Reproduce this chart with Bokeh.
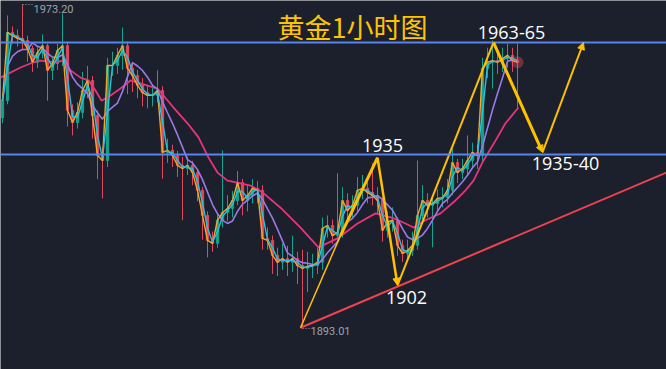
import pandas as pd
from bokeh.plotting import figure
from bokeh.models import ColumnDataSource, Range1d, Arrow, NormalHead, Label, Span
from bokeh.embed import file_html
from bokeh.resources import INLINE

# ---------------- data ----------------
closes = [1949.4, 1966.3, 1965.5, 1964.8, 1964.3, 1962.3, 1958.9, 1961.3, 1963.0, 1956.9,
          1958.6, 1961.8, 1963.0, 1947.0, 1944.0, 1946.5, 1951.9, 1954.4, 1945.7, 1935.8,
          1934.6, 1958.1, 1958.1, 1960.6, 1963.0, 1957.4, 1955.6, 1953.2, 1951.4, 1950.7,
          1950.7, 1951.9, 1936.6, 1937.1, 1935.8, 1933.4, 1932.6, 1933.4, 1931.6, 1927.2,
          1921.0, 1914.8, 1914.1, 1919.8, 1921.7, 1922.7, 1924.7, 1929.1, 1924.7, 1925.9,
          1927.7, 1927.2, 1915.3, 1914.8, 1911.1, 1909.4, 1910.3, 1909.4, 1910.3, 1908.6,
          1907.9, 1908.4, 1908.6, 1909.4, 1917.8, 1918.5, 1916.0, 1916.8, 1924.7, 1922.2,
          1923.5, 1927.2, 1927.7, 1926.7, 1925.9, 1924.7, 1917.3, 1919.3, 1919.8, 1913.6,
          1911.6, 1912.3, 1913.6, 1921.0, 1924.7, 1923.5, 1923.9, 1925.2, 1925.4, 1927.2,
          1934.1, 1931.6, 1932.6, 1934.6, 1936.6, 1935.8, 1957.4, 1958.9, 1959.3, 1958.9,
          1959.8, 1960.6, 1959.3, 1958.9]
highs = [1951.0, 1970.5, 1967.8, 1967.0, 1973.2, 1965.5, 1963.0, 1963.0, 1965.8, 1963.5,
         1960.0, 1963.5, 1971.0, 1964.0, 1948.5, 1949.0, 1956.5, 1958.0, 1955.5, 1947.0,
         1938.0, 1960.0, 1961.5, 1962.5, 1967.5, 1964.0, 1959.0, 1957.0, 1955.0, 1953.0,
         1953.5, 1956.9, 1953.0, 1940.0, 1938.5, 1937.0, 1935.5, 1935.5, 1934.5, 1932.5,
         1928.0, 1922.0, 1917.0, 1921.5, 1937.1, 1926.0, 1927.0, 1932.0, 1930.0, 1928.5,
         1930.0, 1929.5, 1928.5, 1918.0, 1916.0, 1913.0, 1914.0, 1913.5, 1916.0, 1912.0,
         1912.5, 1912.0, 1911.5, 1913.0, 1920.5, 1921.0, 1920.0, 1931.4, 1928.0, 1926.5,
         1926.0, 1930.5, 1931.0, 1930.0, 1933.9, 1928.0, 1925.5, 1922.0, 1923.0, 1920.5,
         1915.0, 1915.0, 1917.0, 1934.6, 1928.5, 1926.5, 1926.0, 1927.5, 1928.0, 1930.0,
         1937.5, 1935.0, 1935.0, 1940.8, 1939.0, 1938.5, 1960.0, 1962.5, 1964.3, 1962.0,
         1962.5, 1963.5, 1962.5, 1963.5]
lows = [1943.8, 1948.5, 1963.5, 1962.8, 1962.0, 1959.0, 1956.5, 1957.5, 1959.8, 1949.4,
        1954.5, 1957.0, 1958.0, 1943.0, 1940.8, 1942.5, 1945.0, 1950.0, 1940.0, 1930.0,
        1925.2, 1933.0, 1955.5, 1956.0, 1957.0, 1951.0, 1951.5, 1950.0, 1948.0, 1947.5,
        1948.0, 1949.0, 1930.1, 1934.0, 1933.0, 1930.5, 1919.8, 1931.0, 1928.5, 1924.5,
        1915.0, 1910.6, 1912.0, 1913.0, 1918.0, 1919.5, 1920.5, 1923.5, 1921.0, 1922.0,
        1924.0, 1924.0, 1912.5, 1912.5, 1906.5, 1906.0, 1907.5, 1906.0, 1907.0, 1904.0,
        1893.0, 1902.0, 1905.5, 1906.5, 1907.5, 1915.5, 1914.0, 1914.5, 1915.5, 1920.0,
        1920.5, 1922.0, 1925.0, 1924.0, 1923.5, 1921.5, 1914.5, 1915.5, 1917.0, 1911.0,
        1909.5, 1910.0, 1911.0, 1912.5, 1919.5, 1920.5, 1913.1, 1922.0, 1923.0, 1924.0,
        1926.0, 1929.0, 1930.0, 1931.0, 1933.0, 1932.5, 1934.5, 1955.0, 1952.4, 1956.0,
        1956.5, 1957.5, 1956.5, 1947.7]
first_open = 1945.2

# slow moving average (pink), read at selected bars
slow_ma_bars = [-0.4, 3.6, 6.2, 7.6, 10.6, 12.0, 13.6, 15.6, 17.2, 18.6, 19.8, 21.6, 23.6,
                25.6, 31.0, 34.2, 37.0, 39.2, 41.2, 43.0, 45.0, 47.0, 49.6, 52.0, 55.6,
                59.6, 63.2, 67.0, 71.0, 74.6, 78.2, 80.6, 82.2, 84.6, 87.6, 90.6, 92.6,
                94.2, 96.2, 98.6, 100.6, 103.2]
slow_ma_vals = [1955.1, 1957.6, 1958.9, 1959.3, 1958.9, 1959.3, 1956.9, 1955.1, 1954.4,
                1951.9, 1949.4, 1950.7, 1952.4, 1954.4, 1952.4, 1947.7, 1943.8, 1940.3,
                1935.3, 1931.6, 1929.6, 1929.1, 1928.4, 1926.7, 1922.9, 1918.0, 1913.1,
                1915.3, 1919.0, 1921.5, 1920.3, 1919.0, 1918.0, 1919.8, 1921.5, 1924.7,
                1927.2, 1929.6, 1934.6, 1939.5, 1943.8, 1947.7]

resistance_level = 1963.8
support_level = 1936.1

# hand-drawn forecast path (bar index, price)
path_bars = [59.6, 67.6, 75.0, 79.0, 98.2, 108.0, 116.2]
path_prices = [1893.2, 1916.0, 1935.3, 1903.7, 1963.8, 1936.6, 1963.8]
path_widths = [1.5, 3, 2.5, 2, 3, 2]
path_arrow = [False, False, True, False, True, True]

trend_bars = [59.6, 132.8]
trend_prices = [1893.2, 1931.6]

# extreme markers (bar index, price) with dotted leaders to their labels
extreme_bars = [4, 60]
extreme_prices = [1973.2, 1893.01]
leader_ends = [6.0, 61.4]

title_text = "黄金1小时图"
labels_white = [("1935", 76.0, 1938.3), ("1963-65", 101.8, 1966.3),
                ("1935-40", 112.6, 1933.9), ("1902", 80.8, 1900.7)]
labels_gray = [("1973.20", 6.2, 1972.0), ("1893.01", 61.6, 1892.4)]

# ---------------- styles ----------------
BG = "#1b202c"
UP = "#14a38b"
DOWN = "#e2475b"
BLUE = "#5486ee"
YELLOW = "#ffc000"
GRAY = "#9ea3ad"

bars = list(range(len(closes)))
opens = [first_open] + closes[:-1]
colors = [UP if c >= o else DOWN for o, c in zip(opens, closes)]
s = pd.Series(closes)
ma_cyan = s.rolling(2, min_periods=1).mean().tolist()
ma_purple = s.rolling(6, min_periods=1).mean().tolist()

src = ColumnDataSource(dict(x=bars, o=opens, c=closes, h=highs, l=lows, color=colors,
                            top=[max(a, b) for a, b in zip(opens, closes)],
                            bot=[min(a, b) for a, b in zip(opens, closes)],
                            cyan=ma_cyan, purple=ma_purple))

p = figure(width=666, height=369, x_range=Range1d(-0.4, 132.8),
           y_range=Range1d(1882.86, 1974.19), output_backend="svg",
           toolbar_location=None, x_axis_location=None, y_axis_location=None,
           background_fill_color=BG, border_fill_color=BG, min_border=0,
           outline_line_color=None)
p.grid.visible = False

# horizontal levels
for lvl in (resistance_level, support_level):
    p.add_layout(Span(location=lvl, dimension="width", line_color=BLUE, line_width=2))

# candles
p.segment(x0="x", y0="h", x1="x", y1="l", color="color", line_width=1, source=src)
p.vbar(x="x", width=0.45, top="top", bottom="bot", fill_color="color",
       line_color="color", source=src)

# moving averages
p.line(slow_ma_bars, slow_ma_vals, line_color="#e8337e", line_width=1.8)
p.line("x", "purple", source=src, line_color="#9a7ae6", line_width=1.6)
p.line("x", "c", source=src, line_color="#f8a327", line_width=1.4)
p.line("x", "cyan", source=src, line_color="#27c3dc", line_width=1.4)

# glow dot at last price
p.scatter([bars[-1]], [closes[-1]], size=12, fill_color="#ff5a6e", fill_alpha=0.35,
          line_color=None)

# dotted leaders for extreme labels
p.segment(x0=extreme_bars, y0=extreme_prices, x1=leader_ends, y1=extreme_prices,
          line_color=GRAY, line_width=1, line_dash="1 2")

# trend line
p.line(trend_bars, trend_prices, line_color="#f0434e", line_width=2)

# forecast path
for i in range(len(path_bars) - 1):
    x0, y0, x1, y1 = path_bars[i], path_prices[i], path_bars[i + 1], path_prices[i + 1]
    if path_arrow[i]:
        p.add_layout(Arrow(end=NormalHead(size=7, fill_color=YELLOW, line_color=YELLOW),
                           x_start=x0, y_start=y0, x_end=x1, y_end=y1,
                           line_color=YELLOW, line_width=path_widths[i]))
    else:
        p.line([x0, x1], [y0, y1], line_color=YELLOW, line_width=path_widths[i])

# texts
p.add_layout(Label(x=70, y=1967.8, text=title_text, text_color="#ffc400",
                   text_font="Noto Sans CJK SC", text_font_size="27px",
                   text_align="center", text_baseline="middle"))
for t, x, y in labels_white:
    p.add_layout(Label(x=x, y=y, text=t, text_color="#ffffff", text_font="Open Sans",
                       text_font_size="18px", text_align="center",
                       text_baseline="middle"))
for t, x, y in labels_gray:
    p.add_layout(Label(x=x, y=y, text=t, text_color=GRAY, text_font="Roboto",
                       text_font_size="11px", text_align="left",
                       text_baseline="middle"))

open("out.html", "w").write(file_html(p, INLINE))
